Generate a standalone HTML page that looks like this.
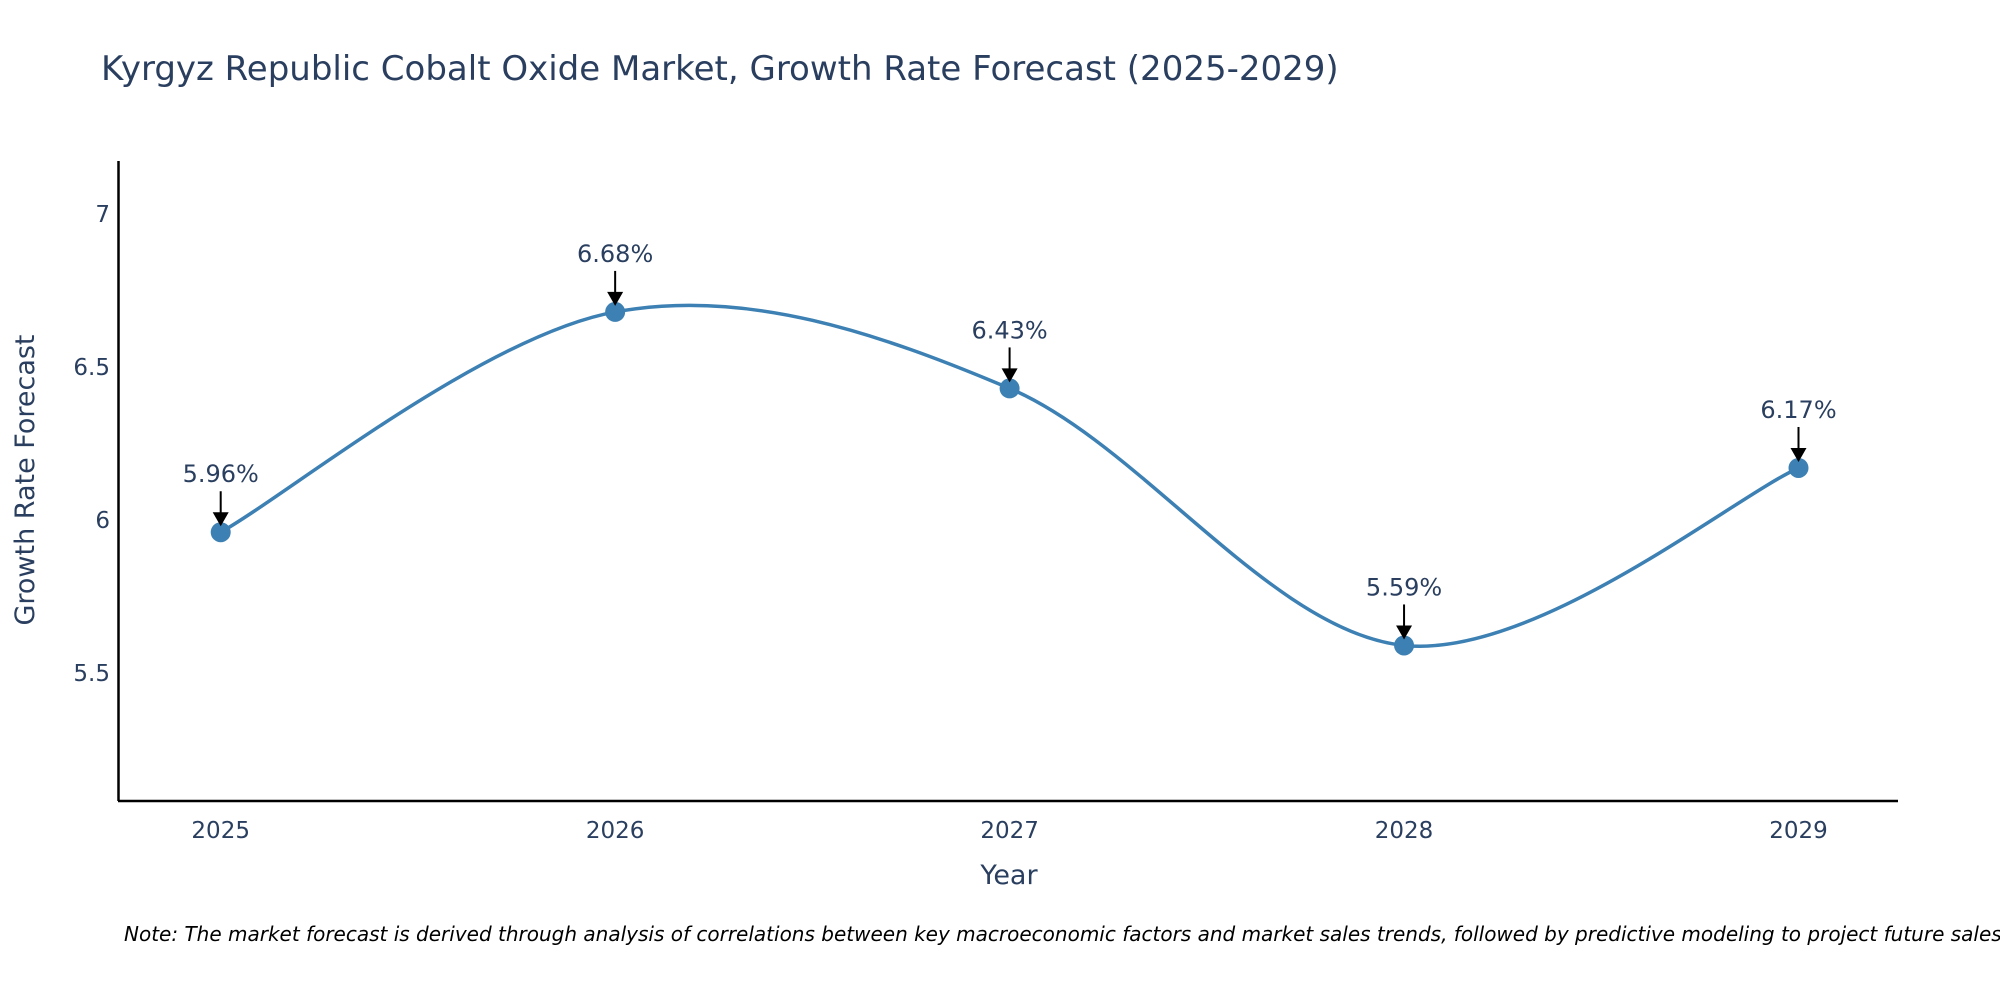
<!DOCTYPE html>
<html><head><meta charset="utf-8"><style>
body{margin:0;background:#fff;}
svg{display:block;font-family:"DejaVu Sans","Liberation Sans",sans-serif;}
</style></head><body>
<svg width="2000" height="1000">
<text x="101" y="80" font-size="34" fill="#2a3f5f">Kyrgyz Republic Cobalt Oxide Market, Growth Rate Forecast (2025-2029)</text>
<g id="yticks"></g><g id="xticks"></g>
<line x1="118.5" y1="161" x2="118.5" y2="801" stroke="#000" stroke-width="2.5"/>
<line x1="118" y1="801" x2="1898" y2="801" stroke="#000" stroke-width="2.5"/>
<text transform="translate(34,480) rotate(-90)" text-anchor="middle" font-size="27" fill="#2a3f5f">Growth Rate Forecast</text>
<text x="1009" y="884" text-anchor="middle" font-size="27" fill="#2a3f5f">Year</text>
<path id="line" fill="none" stroke="#3d80b3" stroke-width="3.5"/>
<g id="marks"></g>
<text x="124" y="941" font-size="20" font-style="italic" fill="#000">Note: The market forecast is derived through analysis of correlations between key macroeconomic factors and market sales trends, followed by predictive modeling to project future sales.</text>
</svg>
<script>
const years=[2025,2026,2027,2028,2029];
const values=[5.96,6.68,6.43,5.59,6.17];
const labels=["5.96%","6.68%","6.43%","5.59%","6.17%"];
const yTicks=[5.5,6,6.5,7];
const NS="http://www.w3.org/2000/svg";
const xs=y=>220.7+(y-2025)*(1798.5-220.7)/4;
const ys=v=>673-(v-5.5)*306;
function mk(t,a,p){const e=document.createElementNS(NS,t);for(const k in a)e.setAttribute(k,a[k]);p.appendChild(e);return e;}
const yt=document.getElementById('yticks');
yTicks.forEach(t=>{const e=mk('text',{x:110,y:ys(t)+8,'text-anchor':'end','font-size':23,fill:'#2a3f5f'},yt);


e.textContent=t;});
const xt=document.getElementById('xticks');
years.forEach(y=>{const e=mk('text',{x:xs(y),y:838,'text-anchor':'middle','font-size':23,fill:'#2a3f5f'},xt);


e.textContent=y;});
const P=years.map((y,i)=>[xs(y),ys(values[i])]);
let d=`M${P[0][0]},${P[0][1]}`;
for(let i=0;i<P.length-1;i++){const p0=P[i-1]||P[i],p1=P[i],p2=P[i+1],p3=P[i+2]||P[i+1];const s=1/6;
d+=` C${p1[0]+(p2[0]-p0[0])*s},${p1[1]+(p2[1]-p0[1])*s} ${p2[0]-(p3[0]-p1[0])*s},${p2[1]-(p3[1]-p1[1])*s} ${p2[0]},${p2[1]}`;}
document.getElementById('line').setAttribute('d',d);
const g=document.getElementById('marks');
P.forEach((p,i)=>{
const c=mk('circle',{cx:p[0],cy:p[1],r:10,fill:'#3d80b3'},g);


const l=mk('line',{x1:p[0],y1:p[1]-41,x2:p[0],y2:p[1]-18,stroke:'#000','stroke-width':2},g);


const h=mk('polygon',{points:`${p[0]-8},${p[1]-20} ${p[0]+8},${p[1]-20} ${p[0]},${p[1]-6}`,fill:'#000'},g);


const t=mk('text',{x:p[0],y:p[1]-50,'text-anchor':'middle','font-size':24,fill:'#2a3f5f'},g);


t.textContent=labels[i];});
</script>
</body></html>
